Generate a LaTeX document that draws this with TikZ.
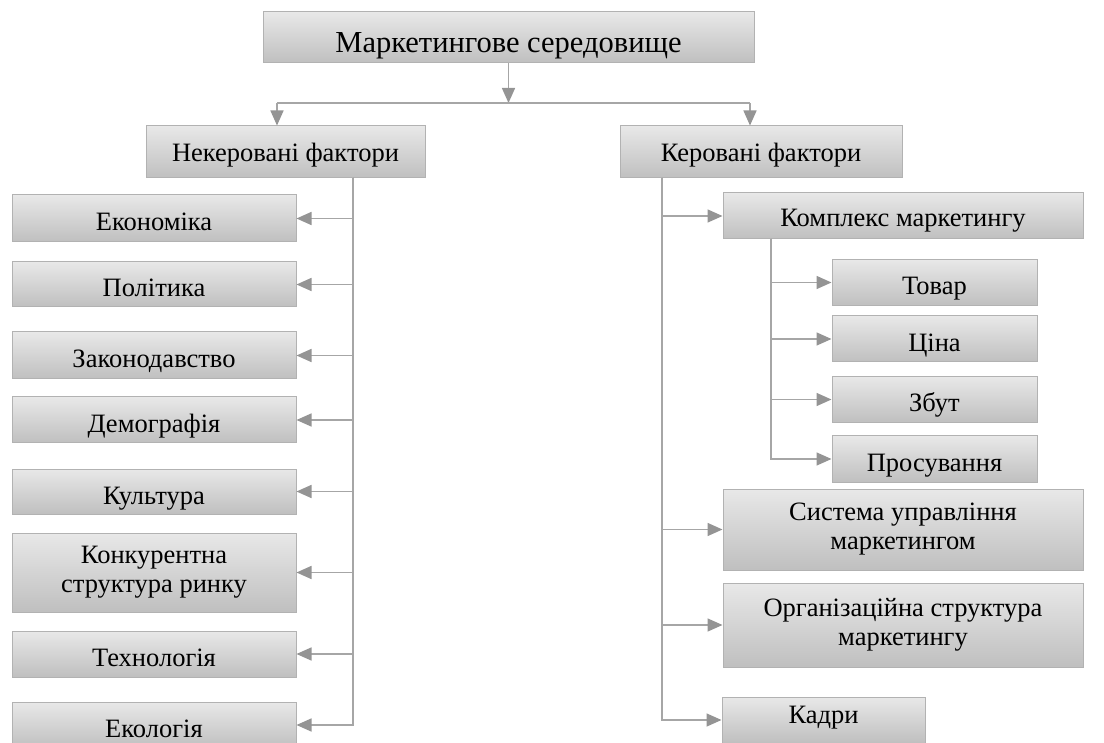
\documentclass[tikz,border=0pt]{standalone}
\usepackage{fontspec}
\setmainfont{Liberation Serif}
\usetikzlibrary{positioning}
\usetikzlibrary{arrows.meta}
\tikzset{
  factor/.style = {shape=rectangle, draw=black!30, line width=1pt,
                   align=center, inner sep=0pt,
                   text height=25pt, text depth=0pt,
                   top color=black!9, bottom color=black!25,
                   font=\fontsize{26.5}{29}\selectfont},
  twoline/.style = {text height=, text depth=},
  root/.style   = {factor, text height=31pt, font=\fontsize{30.5}{36}\selectfont},
  wide/.style   = {factor, minimum width=284pt},
  sub/.style    = {factor, minimum width=205pt, minimum height=46pt},
  link/.style   = {draw=black!35, line width=1.5pt},
  arr/.style    = {link, -{Triangle[length=15pt, width=13pt, color=black!42]}}
}

\begin{document}
\begin{tikzpicture}[x=1pt, y=-1pt]
  \useasboundingbox (0,0) rectangle (1104,743);
  % top of the tree
  \node [root, minimum width=491pt, minimum height=51pt] (env) at (508.5,37.5) {Маркетингове середовище};
  \node [factor, text height=20pt, minimum width=279pt, minimum height=52pt] (unctrl) at (285.5,152) {Некеровані фактори};
  \node [factor, text height=20pt, minimum width=282pt, minimum height=52pt] (ctrl) at (761,152) {Керовані фактори};
  \coordinate (bus) at (508.5,103);
  \coordinate (busl) at (277,103);
  \coordinate (busr) at (750,103);
  \draw[arr] (env) -- (bus);
  \draw[link] (busl) -- (busr);
  \draw[arr] (busl) -- (busl |- unctrl.north);
  \draw[arr] (busr) -- (busr |- ctrl.north);

  % uncontrolled factors
  \node [wide, minimum height=47pt] (econ) at (154,218.5) {Економіка};
  \node [wide, minimum height=45pt] (polit) at (154,284.5) {Політика};
  \node [wide, minimum height=47pt] (law) at (154,355.5) {Законодавство};
  \node [wide, minimum height=46pt] (demo) at (154,420) {Демографія};
  \node [wide, minimum height=45pt] (cult) at (154,491.5) {Культура};
  \node [wide, twoline, minimum height=79pt] (compet) at (154,572.5) {Конкурентна\\структура ринку};
  \node [wide, minimum height=46pt] (tech) at (154,654) {Технологія};
  \node [wide, minimum height=46pt] (eco) at (154,725) {Екологія};
  \coordinate (ltrunk) at (353,178);
  \draw[arr] (ltrunk) |- (econ.east);
  \draw[arr] (ltrunk) |- (polit.east);
  \draw[arr] (ltrunk) |- (law.east);
  \draw[arr] (ltrunk) |- (demo.east);
  \draw[arr] (ltrunk) |- (cult.east);
  \draw[arr] (ltrunk) |- (compet.east);
  \draw[arr] (ltrunk) |- (tech.east);
  \draw[arr] (ltrunk) |- (eco.east);

  % controlled factors
  \node [factor, text height=22pt, minimum width=360pt, minimum height=46pt] (mix) at (903,216) {Комплекс маркетингу};
  \node [sub] (goods) at (934.5,282.5) {Товар};
  \node [sub] (price) at (934.5,339) {Ціна};
  \node [sub] (place) at (934.5,399.5) {Збут};
  \node [sub] (promo) at (934.5,459) {Просування};
  \node [factor, twoline, minimum width=360pt, minimum height=81pt] (mgmt) at (903,529.5) {Система управління\\маркетингом};
  \node [factor, twoline, minimum width=360pt, minimum height=84pt] (org) at (903,625) {Організаційна структура\\маркетингу};
  \node [factor, text height=6pt, minimum width=203pt, minimum height=46pt] (staff) at (823.5,720) {Кадри};
  \coordinate (rtrunk) at (662,178);
  \draw[arr] (rtrunk) |- (mix.west);
  \draw[arr] (rtrunk) |- (mgmt.west);
  \draw[arr] (rtrunk) |- (org.west);
  \draw[arr] (rtrunk) |- (staff.west);
  \coordinate (mtrunk) at (771,239);
  \draw[arr] (mtrunk) |- (goods.west);
  \draw[arr] (mtrunk) |- (price.west);
  \draw[arr] (mtrunk) |- (place.west);
  \draw[arr] (mtrunk) |- (promo.west);
\end{tikzpicture}
\end{document}
